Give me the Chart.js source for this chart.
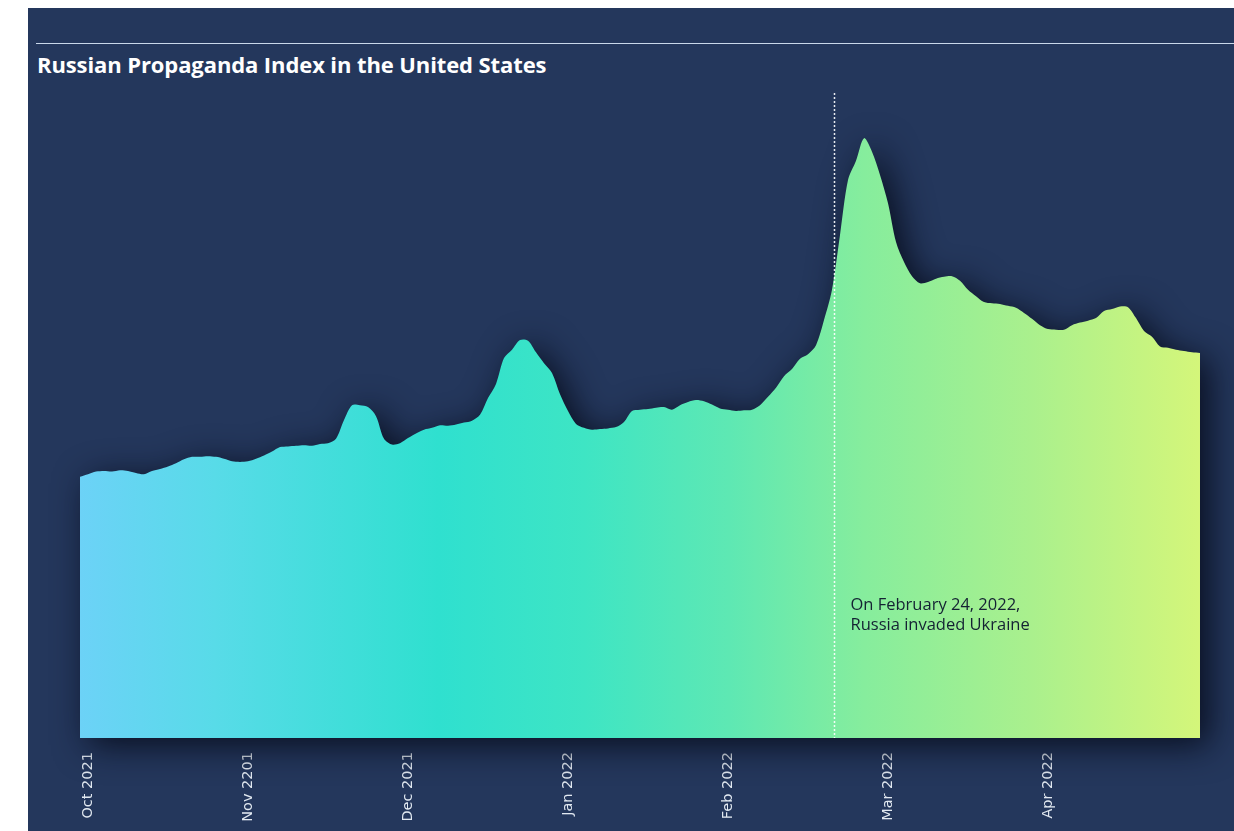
<!DOCTYPE html>
<html>
<head>
<meta charset="utf-8">
<title>Russian Propaganda Index in the United States</title>
<script src="https://cdn.jsdelivr.net/npm/chart.js@4/dist/chart.umd.min.js"></script>
<style>
  html, body { margin: 0; padding: 0; background: #fff; }
  #frame {
    position: absolute; left: 28px; top: 8px; width: 1206px; height: 823px;
    background: #24375c; overflow: hidden;
  }
  #rule {
    position: absolute; left: 8px; right: 0; top: 35px; height: 0;
    border-top: 1.5px solid #c9d8ea;
  }
  #title {
    position: absolute; left: 9px; top: 41px; margin: 0;
    font: 700 22px "Open Sans", sans-serif; color: #fff; letter-spacing: -0.1px;
  }
  #chart { position: absolute; left: 0; top: 0; }
</style>
</head>
<body>
<div id="frame">
  <div id="rule"></div>
  <h1 id="title">Russian Propaganda Index in the United States</h1>
  <canvas id="chart" width="1206" height="823"></canvas>
</div>
<script>
// index values, one point every ~1.5 days, Oct 2021 - Apr 2022
const indexValues = [
  40.5, 40.9, 41.3, 41.4, 41.3, 41.5, 41.4, 41.1, 40.9, 41.4,
  41.7, 42.1, 42.6, 43.2, 43.6, 43.6, 43.7, 43.6, 43.3, 42.9,
  42.8, 42.9, 43.3, 43.8, 44.4, 45.1, 45.2, 45.3, 45.4, 45.3,
  45.6, 45.7, 46.4, 49.3, 51.6, 51.6, 51.3, 49.9, 46.4, 45.5,
  45.7, 46.5, 47.2, 47.8, 48.1, 48.5, 48.4, 48.6, 48.9, 49.2,
  50.1, 52.7, 54.9, 58.9, 60.2, 61.7, 61.6, 59.8, 58.1, 56.6,
  53.3, 50.7, 48.7, 48.1, 47.8, 47.9, 48.0, 48.2, 49.0, 50.7,
  50.9, 51.0, 51.2, 51.3, 50.9, 51.6, 52.1, 52.4, 52.2, 51.7,
  51.1, 50.9, 50.7, 50.8, 50.9, 51.6, 52.9, 54.3, 56.1, 57.2,
  58.8, 59.5, 60.9, 64.8, 69.5, 78.0, 86.5, 89.5, 93.0, 90.9,
  87.3, 82.9, 76.9, 73.8, 71.6, 70.5, 70.7, 71.2, 71.5, 71.6,
  70.9, 69.5, 68.5, 67.6, 67.4, 67.3, 67.0, 66.7, 65.9, 65.0,
  64.0, 63.4, 63.3, 63.3, 64.0, 64.4, 64.7, 65.1, 66.2, 66.5,
  66.9, 66.8, 65.1, 63.1, 62.2, 60.7, 60.5, 60.2, 60.0, 59.8,
  59.7
];

// tick labels and the point index each one sits on
const monthLabels = ['Oct 2021', 'Nov 2201', 'Dec 2021', 'Jan 2022', 'Feb 2022', 'Mar 2022', 'Apr 2022'];
const monthTickIndex = [1, 21, 41, 61, 81, 101, 121];

// invasion marker (position on the point axis) and its note
const invasionIndex = 94.25;
const invasionNote = ['On February 24, 2022,', 'Russia invaded Ukraine'];
const noteLevel = 20.6;

const labels = indexValues.map((v, i) => {
  const k = monthTickIndex.indexOf(i);
  return k >= 0 ? monthLabels[k] : '';
});

const gradientStops = [
  [0.00, '#6cd2f7'],
  [0.12, '#58dbe8'],
  [0.32, '#2fe0cf'],
  [0.45, '#3ee5c4'],
  [0.58, '#5ee8b3'],
  [0.70, '#86ed9d'],
  [0.85, '#aaf08d'],
  [1.00, '#d4f67a']
];

function areaGradient(context) {
  const chart = context.chart;
  const area = chart.chartArea;
  if (!area) return '#4fe0d0';
  const g = chart.ctx.createLinearGradient(area.left, 0, area.right, 0);
  gradientStops.forEach(([p, c]) => g.addColorStop(p, c));
  return g;
}

// dark glow under the filled area, drawn from the line's own path
const areaShadow = {
  id: 'areaShadow',
  beforeDatasetsDraw(chart) {
    const meta = chart.getDatasetMeta(0);
    const line = meta.dataset;
    const pts = meta.data;
    if (!line || !pts.length) return;
    const base = chart.scales.y.getPixelForValue(0);
    const ctx = chart.ctx;
    ctx.save();
    ctx.shadowColor = 'rgba(6, 10, 24, 0.9)';
    ctx.shadowBlur = 34;
    ctx.shadowOffsetX = 9;
    ctx.shadowOffsetY = 7;
    ctx.fillStyle = '#1a2946';
    ctx.beginPath();
    line.path(ctx);
    ctx.lineTo(pts[pts.length - 1].x, base);
    ctx.lineTo(pts[0].x, base);
    ctx.closePath();
    ctx.fill();
    ctx.restore();
  }
};

const invasionMarker = {
  id: 'invasionMarker',
  afterDatasetsDraw(chart) {
    const {ctx, chartArea, scales} = chart;
    const x = Math.round(scales.x.getPixelForValue(invasionIndex)) + 0.5;
    ctx.save();
    ctx.strokeStyle = 'rgba(255,255,255,0.9)';
    ctx.lineWidth = 1.5;
    ctx.setLineDash([2, 2]);
    ctx.beginPath();
    ctx.moveTo(x, chartArea.top);
    ctx.lineTo(x, scales.y.getPixelForValue(0));
    ctx.stroke();
    ctx.setLineDash([]);
    ctx.fillStyle = '#142233';
    ctx.font = '16.5px "Open Sans", sans-serif';
    ctx.textBaseline = 'middle';
    const y = scales.y.getPixelForValue(noteLevel);
    invasionNote.forEach((t, i) => ctx.fillText(t, x + 16, y + i * 20));
    ctx.restore();
  }
};

new Chart(document.getElementById('chart'), {
  type: 'line',
  data: {
    labels: labels,
    datasets: [{
      data: indexValues,
      fill: 'origin',
      backgroundColor: areaGradient,
      borderWidth: 0,
      pointRadius: 0,
      tension: 0.3
    }]
  },
  options: {
    responsive: false,
    animation: false,
    layout: { padding: { left: 52, right: 34, top: 85, bottom: 0 } },
    plugins: {
      legend: { display: false },
      tooltip: { enabled: false }
    },
    scales: {
      x: {
        grid: { display: false, drawTicks: false },
        border: { display: false },
        afterFit: (scale) => { scale.height = 93; },
        ticks: {
          autoSkip: false,
          minRotation: 90,
          maxRotation: 90,
          padding: 14,
          color: '#e2e9f1',
          font: { family: '"DejaVu Sans", sans-serif', size: 14.5 }
        }
      },
      y: {
        display: false,
        min: 0,
        max: 100
      }
    }
  },
  plugins: [areaShadow, invasionMarker]
});
</script>
</body>
</html>
